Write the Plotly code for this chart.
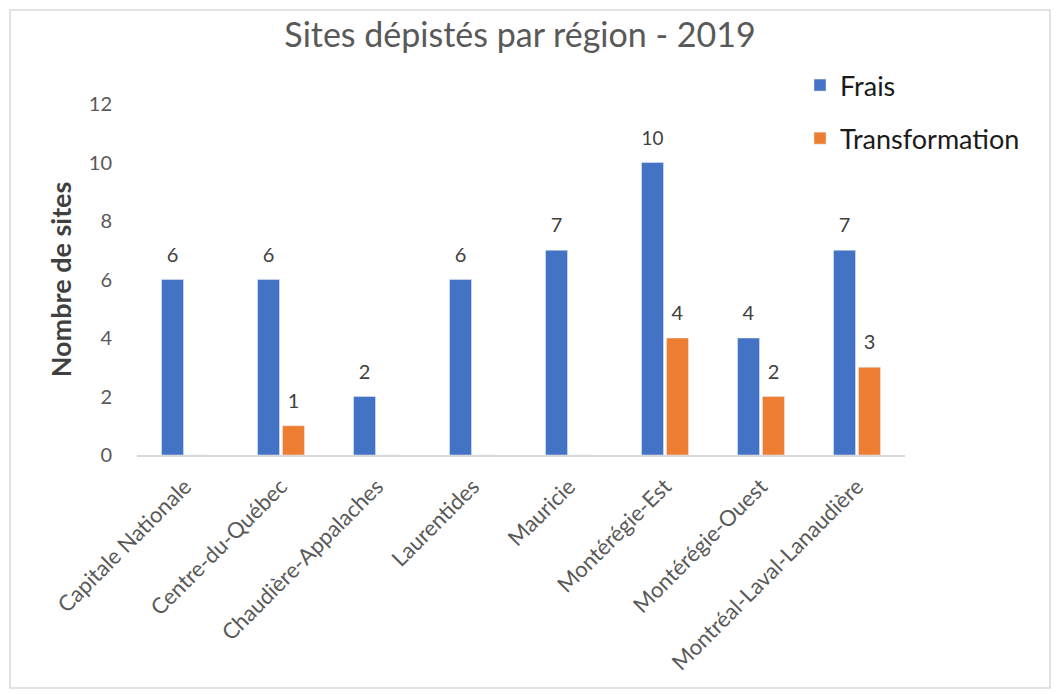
import plotly.graph_objects as go

categories = ["Capitale Nationale", "Centre-du-Québec", "Chaudière-Appalaches", "Laurentides",
              "Mauricie", "Montérégie-Est", "Montérégie-Ouest", "Montréal-Laval-Lanaudière"]
frais = [6, 6, 2, 6, 7, 10, 4, 7]
transformation = [0, 1, 0, 0, 0, 4, 2, 3]
y_ticks = [0, 2, 4, 6, 8, 10, 12]

W, H = 1061, 694
OFF = 8  # page body margin
L, R, T, B = 137 - OFF, 1061 - 905 + OFF, 104 - OFF, 694 - 455 + OFF
pw, ph = W - L - R, H - T - B

def lbl(vals):
    return [f"<span style='font-size:20px'>{v}</span><br> " if v else "" for v in vals]

fig = go.Figure()
fig.add_trace(go.Bar(x=categories, y=frais, name="Frais", marker_color="#4472C4",
                     text=lbl(frais), textposition="outside", cliponaxis=False,
                     textfont=dict(size=10, color="#404040", family="Lato"),
                     legendgroup="a"))
fig.add_trace(go.Bar(x=categories, y=transformation, name="Transformation", marker_color="#ED7D31",
                     text=lbl(transformation), textposition="outside", cliponaxis=False,
                     textfont=dict(size=10, color="#404040", family="Lato"),
                     legendgroup="b"))

fig.update_layout(
    width=W, height=H,
    margin=dict(l=L, r=R, t=T, b=B, autoexpand=False),
    paper_bgcolor="white", plot_bgcolor="white",
    barmode="group", bargap=0.48, bargroupgap=0.12,
    title=dict(text="Sites dépistés par région - 2019", x=(520 - OFF) / W, xanchor="center",
               y=1 - (35 - OFF) / H, yanchor="middle",
               font=dict(family="Lato", size=34, color="#595959")),
    legend=dict(x=(800 - OFF - L) / pw, y=(H - B - (61 - OFF)) / ph, xanchor="left", yanchor="top",
                font=dict(family="Lato", size=27, color="#1a1a1a"),
                tracegroupgap=15, bgcolor="rgba(0,0,0,0)"),
    showlegend=True,
    xaxis=dict(tickangle=-45, showgrid=False, showline=True, linecolor="#D9D9D9", linewidth=2,
               ticks="", ticklabelstandoff=8,
               tickfont=dict(family="Lato", size=22, color="#595959")),
    yaxis=dict(range=[0, 12], tickvals=y_ticks, showgrid=False, zeroline=False, showline=False,
               ticks="", ticklabelstandoff=24,
               tickfont=dict(family="Lato", size=20, color="#595959"),
               title=dict(text="<b>Nombre de sites</b>", standoff=9,
                          font=dict(family="Lato", size=27, color="#404040"))),
    shapes=[dict(type="rect", xref="paper", yref="paper",
                 x0=(10 - OFF - L) / pw, x1=(1050 - OFF - L) / pw,
                 y0=(H - B - (688 - OFF)) / ph, y1=(H - B - (10 - OFF)) / ph,
                 line=dict(color="#D9D9D9", width=1.5), fillcolor="rgba(0,0,0,0)", layer="below")],
)

fig.write_html("out.html")
